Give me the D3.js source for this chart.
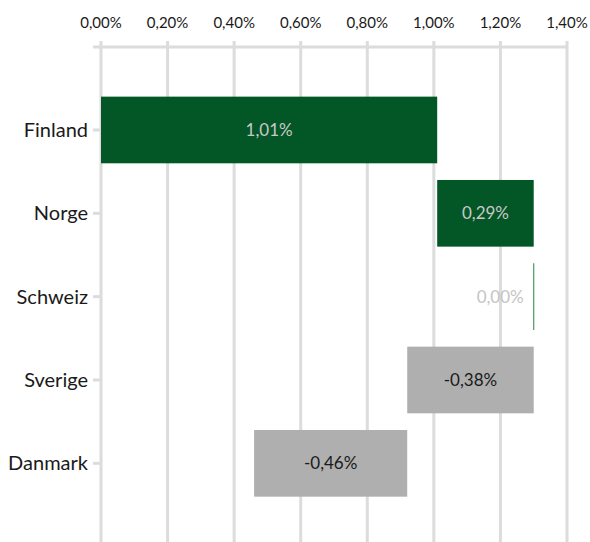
<!DOCTYPE html>
<html><head><meta charset="utf-8">
<script src="https://cdn.jsdelivr.net/npm/d3@7"></script>
<style>body{margin:0;background:#fff}svg{display:block}</style>
</head><body>
<svg id="c" width="590" height="542"></svg>
<script>
const categories = ["Finland","Norge","Schweiz","Sverige","Danmark"];
const changes = [1.01, 0.29, 0.00, -0.38, -0.46];
const labels = ["1,01%","0,29%","0,00%","-0,38%","-0,46%"];
const tickValues = [0,0.2,0.4,0.6,0.8,1.0,1.2,1.4];
const tickLabels = ["0,00%","0,20%","0,40%","0,60%","0,80%","1,00%","1,20%","1,40%"];

const svg = d3.select("#c");
const font = "Lato, 'Source Sans Pro', 'Noto Sans', sans-serif";
const x = d3.scaleLinear().domain([0,1.4]).range([101,567]);
const y = d3.scaleBand().domain(categories).range([88.3,505]).paddingInner(0.2).paddingOuter(0.1);

// running totals
let cum = 0;
const rows = categories.map((c,i)=>{ const s=cum; cum+=changes[i]; return {c, start:s, end:cum, v:changes[i], label:labels[i]}; });

// gridlines
svg.append("g").selectAll("line").data(tickValues).join("line")
  .attr("x1",d=>x(d)).attr("x2",d=>x(d)).attr("y1",41).attr("y2",542)
  .attr("stroke","#dcdcdc").attr("stroke-width",3);
// top axis line
svg.append("line").attr("x1",93).attr("x2",568).attr("y1",47).attr("y2",47)
  .attr("stroke","#dcdcdc").attr("stroke-width",3);
// tick labels
svg.append("g").selectAll("text").data(tickValues).join("text")
  .attr("x",d=>x(d)).attr("y",28).attr("text-anchor","middle")
  .attr("font-family",font).attr("font-size",15).attr("fill","#1a1a1a")
  .text((d,i)=>tickLabels[i]);

// y ticks and labels
svg.append("g").selectAll("line").data(categories).join("line")
  .attr("x1",93).attr("x2",100).attr("y1",d=>y(d)+y.bandwidth()/2).attr("y2",d=>y(d)+y.bandwidth()/2)
  .attr("stroke","#dcdcdc").attr("stroke-width",3);
svg.append("g").selectAll("text").data(categories).join("text")
  .attr("x",88).attr("y",d=>y(d)+y.bandwidth()/2).attr("dy","0.35em").attr("text-anchor","end")
  .attr("font-family",font).attr("font-size",20).attr("fill","#1a1a1a").text(d=>d);

// bars
const bars = svg.append("g");
rows.forEach(r=>{
  const x0 = x(Math.min(r.start,r.end)), x1 = x(Math.max(r.start,r.end));
  const yc = y(r.c)+y.bandwidth()/2;
  if (r.v === 0) {
    bars.append("line").attr("x1",x(r.start)).attr("x2",x(r.start))
      .attr("y1",y(r.c)).attr("y2",y(r.c)+y.bandwidth())
      .attr("stroke","#4a9a62").attr("stroke-width",1.2);
    bars.append("text").attr("x",x(r.start)-10).attr("y",yc).attr("dy","0.35em")
      .attr("text-anchor","end").attr("font-family",font).attr("font-size",17)
      .attr("fill","#c4c4c4").text(r.label);
  } else {
    const pos = r.v>0;
    bars.append("rect").attr("x",x0).attr("y",y(r.c)).attr("width",x1-x0).attr("height",y.bandwidth())
      .attr("fill",pos?"#035727":"#afafaf");
    bars.append("text").attr("x",(x0+x1)/2).attr("y",yc).attr("dy","0.35em")
      .attr("text-anchor","middle").attr("font-family",font).attr("font-size",17)
      .attr("fill",pos?"#c8c8c8":"#1a1a1a").text(r.label);
  }
});
</script>
</body></html>
